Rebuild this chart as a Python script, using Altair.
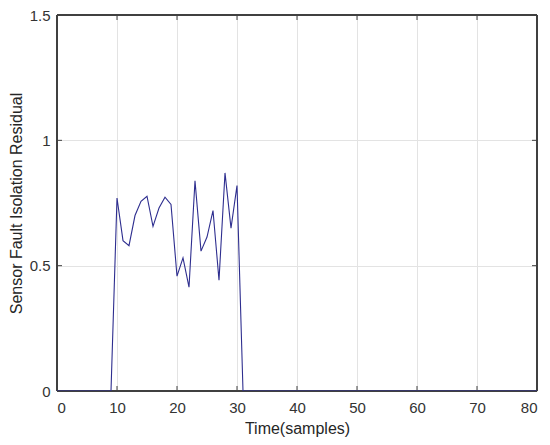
import altair as alt
import pandas as pd

samples = list(range(0, 81))
fault_values = [0.77, 0.60, 0.58, 0.70, 0.757, 0.777, 0.657, 0.73, 0.773, 0.744,
                0.458, 0.531, 0.414, 0.839, 0.558, 0.614, 0.72, 0.442, 0.87, 0.65, 0.82]
fault_start = 10
residual = [0.0] * len(samples)
for i, v in enumerate(fault_values):
    residual[fault_start + i] = v

x_ticks = [0, 10, 20, 30, 40, 50, 60, 70, 80]
y_ticks = [0, 0.5, 1, 1.5]

df = pd.DataFrame({"t": samples, "r": residual})

font = "Liberation Sans"
frame_color = "#404040"

x_scale = alt.Scale(domain=[0, 80], nice=False, zero=False)
y_scale = alt.Scale(domain=[0, 1.5], nice=False)

line = alt.Chart(df).mark_line(color="#2e2e8f", strokeWidth=1.1, clip=True).encode(
    x=alt.X("t:Q", title="Time(samples)", scale=x_scale,
            axis=alt.Axis(values=x_ticks, format="d",
                          grid=True, gridColor="#e3e3e3", ticks=False, domain=False,
                          labelFontSize=15, titleFontSize=16, labelPadding=9,
                          titlePadding=5, labelColor="#333333", titleColor="#262626",
                          titleFontWeight="normal", labelFont=font, titleFont=font)),
    y=alt.Y("r:Q", title="Sensor Fault Isolation Residual", scale=y_scale,
            axis=alt.Axis(values=y_ticks, labelExpr="datum.value == 0 ? '0' : datum.value == 1 ? '1' : format(datum.value, '.1f')",
                          grid=True, gridColor="#e3e3e3", ticks=False, domain=False,
                          labelFontSize=15, titleFontSize=16, labelPadding=7,
                          titlePadding=5, labelColor="#333333", titleColor="#262626",
                          titleFontWeight="normal", labelFont=font, titleFont=font)),
)

frame = alt.Chart(df).mark_rect(fill=None, fillOpacity=0, stroke=frame_color, strokeWidth=1).encode(
    x=alt.datum(0, scale=x_scale), x2=alt.datum(80),
    y=alt.datum(0, scale=y_scale), y2=alt.datum(1.5),
)

xt = pd.DataFrame({"v": x_ticks})
yt = pd.DataFrame({"v": y_ticks})

bottom_ticks = alt.Chart(xt).mark_rule(color=frame_color, strokeWidth=1).encode(
    x=alt.X("v:Q", scale=x_scale), y=alt.value(376), y2=alt.value(371))
top_ticks = alt.Chart(xt).mark_rule(color=frame_color, strokeWidth=1).encode(
    x=alt.X("v:Q", scale=x_scale), y=alt.value(0), y2=alt.value(5))
left_ticks = alt.Chart(yt).mark_rule(color=frame_color, strokeWidth=1).encode(
    y=alt.Y("v:Q", scale=y_scale), x=alt.value(0), x2=alt.value(5))
right_ticks = alt.Chart(yt).mark_rule(color=frame_color, strokeWidth=1).encode(
    y=alt.Y("v:Q", scale=y_scale), x=alt.value(480), x2=alt.value(475))

chart = alt.layer(line.mark_rect(opacity=0), frame, bottom_ticks, top_ticks, left_ticks, right_ticks, line).properties(
    width=480, height=376,
    background="white",
    autosize=alt.AutoSizeParams(type="none"),
    padding={"left": 49, "top": 7, "right": 5, "bottom": 50},
).configure_view(stroke=None)

chart.save("out.html", embed_options={"renderer": "svg", "actions": False})
